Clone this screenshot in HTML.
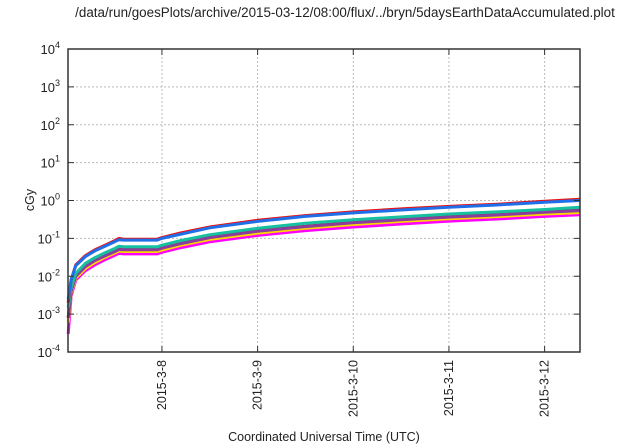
<!DOCTYPE html>
<html><head><meta charset="utf-8"><style>
body{margin:0;background:#fff}
svg{display:block;font-family:"Liberation Sans",sans-serif}
</style></head><body>
<svg id="c" width="640" height="448">
<text x="345" y="17" font-size="13.4" text-anchor="middle" fill="#222">/data/run/goesPlots/archive/2015-03-12/08:00/flux/../bryn/5daysEarthDataAccumulated.plot</text>
<text x="324" y="441" font-size="12.5" text-anchor="middle" fill="#222">Coordinated Universal Time (UTC)</text>
<text transform="translate(34,200) rotate(-90)" font-size="12.5" text-anchor="middle" fill="#222">cGy</text>
<g id="grid"></g><g id="series"></g><g id="axes"></g>
</svg>
<script>
const xTickLabels=["2015-3-8","2015-3-9","2015-3-10","2015-3-11","2015-3-12"];
const xTickDays=[1,2,3,4,5];
const yTickExps=[-4,-3,-2,-1,0,1,2,3,4];
const times=[0.02,0.05,0.1,0.2,0.3,0.4,0.5,0.55,0.6,0.95,1.0,1.2,1.5,2,2.5,3,3.5,4,4.5,5,5.37];
const red=[0.002,0.008,0.02,0.035,0.05,0.065,0.085,0.1,0.095,0.095,0.105,0.14,0.2,0.3,0.4,0.5,0.6,0.7,0.8,0.95,1.08];
const blue=[0.0025,0.008,0.019,0.033,0.047,0.061,0.08,0.092,0.09,0.09,0.1,0.13,0.19,0.28,0.38,0.47,0.56,0.66,0.76,0.9,1.0];
const teal=[0.0015,0.005,0.012,0.022,0.031,0.041,0.053,0.062,0.06,0.06,0.066,0.088,0.125,0.185,0.25,0.31,0.37,0.44,0.5,0.58,0.66];
const brown=[0.0008,0.004,0.0105,0.019,0.027,0.035,0.045,0.053,0.051,0.051,0.056,0.075,0.107,0.158,0.21,0.265,0.32,0.375,0.425,0.5,0.56];
const purple=[0.0008,0.004,0.01,0.018,0.026,0.034,0.044,0.051,0.05,0.05,0.055,0.073,0.104,0.154,0.205,0.258,0.31,0.365,0.415,0.49,0.54];
const yellow=[0.0006,0.0035,0.009,0.016,0.023,0.031,0.04,0.046,0.045,0.045,0.049,0.066,0.094,0.138,0.185,0.232,0.28,0.33,0.375,0.44,0.48];
const magenta=[0.0003,0.003,0.008,0.014,0.02,0.027,0.035,0.04,0.039,0.039,0.043,0.057,0.081,0.12,0.16,0.2,0.24,0.285,0.325,0.38,0.42];
const seriesList=[["magenta",magenta,"#ff00ff"],["yellow",yellow,"#ffd700"],["brown",brown,"#7a4040"],["purple",purple,"#8a3d9a"],["teal",teal,"#17c0a0"],["red",red,"#ee1111"],["blue",blue,"#1f70e8"]];
const L=68,R=580,T=49,B=352,X0=0.018,X1=5.37;
const x=d=>L+(d-X0)/(X1-X0)*(R-L);
const y=v=>T+(4-Math.log10(v))/8*(B-T);
const NS="http://www.w3.org/2000/svg";
function mk(t,a,p){const e=document.createElementNS(NS,t);for(const k in a)e.setAttribute(k,a[k]);p.appendChild(e);return e;}
const grid=document.getElementById('grid'),axes=document.getElementById('axes'),ser=document.getElementById('series');
yTickExps.forEach(ex=>{const yy=y(Math.pow(10,ex));
 if(ex>-4&&ex<4){const g=mk('line',{x1:L,x2:R,y1:yy,y2:yy,stroke:'#bbb','stroke-dasharray':'2,2'},grid);
 
 }
 mk('line',{x1:L,x2:L+6,y1:yy,y2:yy,stroke:'#333'},axes);mk('line',{x1:R-6,x2:R,y1:yy,y2:yy,stroke:'#333'},axes);
 const t=mk('text',{x:L-8,y:yy+5,'font-size':13,'text-anchor':'end',fill:'#222'},axes);
 
 
 t.appendChild(document.createTextNode('10'));
 const s=mk('tspan',{dy:-6,'font-size':9},t);s.textContent=String(ex);});
xTickDays.forEach((d,i)=>{const xx=x(d);
 const g=mk('line',{x1:xx,x2:xx,y1:T,y2:B,stroke:'#bbb','stroke-dasharray':'2,2'},grid);
 
 
 mk('line',{x1:xx,x2:xx,y1:B-6,y2:B,stroke:'#333'},axes);mk('line',{x1:xx,x2:xx,y1:T,y2:T+6,stroke:'#333'},axes);
 const t=mk('text',{transform:`translate(${xx+4},${B+8}) rotate(-90)`,'font-size':12.5,'text-anchor':'end',fill:'#222'},axes);
 
 
 t.textContent=xTickLabels[i];});
const fr=mk('rect',{x:L,y:T,width:R-L,height:B-T,fill:'none',stroke:'#333','stroke-width':1.5},axes);


seriesList.forEach(([n,vals,c])=>{const p=mk('polyline',{points:vals.map((v,i)=>x(times[i]).toFixed(1)+','+y(v).toFixed(1)).join(' '),fill:'none',stroke:c,'stroke-width':3,'stroke-linejoin':'round'},ser);
 
 });
</script>
</body></html>
